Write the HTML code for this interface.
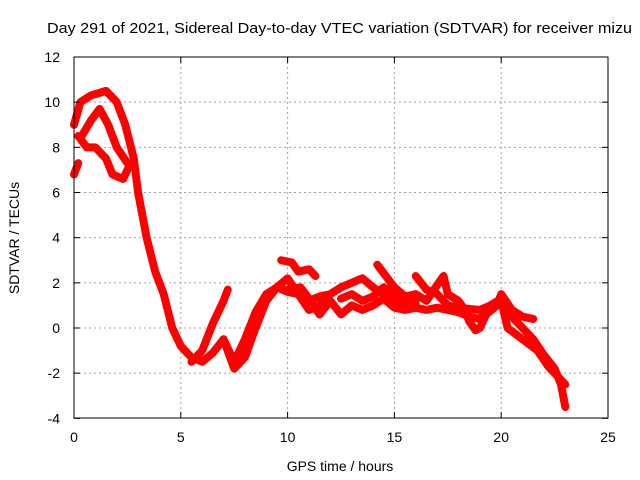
<!DOCTYPE html>
<html><head><meta charset="utf-8"><style>
body{margin:0;background:#fff}
svg{display:block;font-family:"Liberation Sans",sans-serif}
</style></head><body>
<svg id="chart" width="640" height="480" viewBox="0 0 640 480">
<text x="47" y="33" font-size="15" textLength="585" lengthAdjust="spacingAndGlyphs">Day 291 of 2021, Sidereal Day-to-day VTEC variation (SDTVAR) for receiver mizu</text>
<text x="340" y="471" font-size="14" text-anchor="middle">GPS time / hours</text>
<text transform="translate(19,238) rotate(-90)" font-size="14" text-anchor="middle">SDTVAR / TECUs</text>
<g id="grid"></g><g id="series"></g><g id="axes"></g>
</svg>
<script>
const xTicks=[0,5,10,15,20,25];
const yTicks=[-4,-2,0,2,4,6,8,10,12];
const trackA=[[0,9],[0.3,10],[0.8,10.3],[1.5,10.5],[2,10],[2.4,9],[2.8,7.5],[3,6],[3.4,4],[3.8,2.5],[4.2,1.5],[4.6,0],[5,-0.8],[5.5,-1.3],[6,-1.5],[6.5,-1.1],[7,-0.5],[7.5,-1.5],[8,-0.5],[8.5,0.7],[9,1.5],[9.5,1.8],[10,1.6],[10.5,1.5],[11,1.2],[11.5,1.4],[12,1.5]];
const trackB=[[0.3,8.4],[0.8,9.2],[1.2,9.7],[1.6,9],[2,8],[2.5,7.3],[2.8,7.2]];
const trackC=[[0,6.8],[0.2,7.3]];
const trackD=[[0.2,8.5],[0.6,8],[1,8],[1.5,7.5],[1.8,6.8],[2.3,6.6],[2.6,7.2],[2.8,7.4]];
const trackE=[[5.5,-1.5],[6,-1.0],[6.5,0.2],[7,1.2],[7.2,1.7]];
const trackF=[[7,-0.5],[7.5,-1.8],[8,-1.3],[8.5,0],[9,1.2],[9.5,1.8],[10,2.2],[10.5,1.5],[11,0.8],[11.5,1.0],[12,1.5],[12.5,1.8],[13,2.0],[13.5,2.2],[14,1.8],[14.5,1.5],[15,1.2],[15.5,1.0]];
const trackG=[[9.7,3.0],[10.2,2.9],[10.5,2.5],[11,2.6],[11.3,2.3]];
const trackI=[[10,1.7],[10.6,1.8],[11,1.3],[11.5,0.6],[12,1.2],[12.5,0.6],[13,1.0],[13.5,0.8],[14,1.0],[14.5,1.3],[15,0.9],[15.5,0.8],[16,0.9],[16.5,0.8],[17,0.9],[17.5,0.8],[18,0.7],[18.5,0.5],[19,0.4],[19.5,1.0],[20,1.3],[20.5,0.5],[21,0],[21.5,-0.5],[22,-1.2],[22.5,-1.8],[22.8,-2.5],[23,-3.5]];
const trackJ=[[14.2,2.8],[14.6,2.3],[15,1.8],[15.5,1.4],[16,1.5],[16.5,1.2],[17,1.9],[17.3,2.3],[17.5,1.5],[18,1.2],[18.3,0.8],[18.5,0.3],[18.8,-0.1],[19,0],[19.3,0.6],[19.8,1.0],[20,1.5],[20.5,0.8],[21,0.5],[21.5,0.4]];
const trackK=[[16,2.3],[16.5,1.7],[17,1.5],[17.5,1.0],[18,0.9],[19,0.8],[20,1.2],[20.3,0],[21,-0.5],[21.7,-1],[22.2,-1.7],[22.5,-2],[22.8,-2.3],[23,-2.5]];
const trackL=[[12.5,1.3],[13,1.5],[13.5,1.2],[14,1.4],[14.5,1.8],[15,1.5],[15.5,1.3],[16,1.1]];
const tracks=[trackA,trackB,trackC,trackD,trackE,trackF,trackG,trackI,trackJ,trackK,trackL];
const X=h=>74+h*534/25;
const Y=v=>328-v*(328-57)/12;
const NS="http://www.w3.org/2000/svg";
function mk(t,a,p){const e=document.createElementNS(NS,t);for(const k in a)e.setAttribute(k,a[k]);p.appendChild(e);return e;}
const grid=document.getElementById('grid'),axes=document.getElementById('axes'),ser=document.getElementById('series');
xTicks.forEach(t=>{
 if(t>0&&t<25){const g=mk('line',{x1:X(t),x2:X(t),y1:57,y2:418,stroke:'#a0a0a0','stroke-dasharray':'2,3'},grid);
 
 }
 mk('line',{x1:X(t),x2:X(t),y1:418,y2:412,stroke:'#000'},axes);
 mk('line',{x1:X(t),x2:X(t),y1:57,y2:63,stroke:'#000'},axes);
 const l=mk('text',{x:X(t),y:442,'font-size':14,'text-anchor':'middle'},axes);l.textContent=t;
 
 
});
yTicks.forEach(t=>{
 if(t>-4&&t<12){const g=mk('line',{x1:74,x2:608,y1:Y(t),y2:Y(t),stroke:'#a0a0a0','stroke-dasharray':'2,3'},grid);
 
 }
 mk('line',{x1:74,x2:80,y1:Y(t),y2:Y(t),stroke:'#000'},axes);
 mk('line',{x1:608,x2:602,y1:Y(t),y2:Y(t),stroke:'#000'},axes);
 const l=mk('text',{x:60,y:Y(t)+5,'font-size':14,'text-anchor':'end'},axes);l.textContent=t;
 
 
});
const fr=mk('rect',{x:74,y:57,width:534,height:361,fill:'none',stroke:'#000'},axes);


tracks.forEach(tr=>{
 const p=mk('polyline',{points:tr.map(d=>X(d[0])+','+Y(d[1])).join(' '),fill:'none',stroke:'#ff0000','stroke-width':8,'stroke-linejoin':'round','stroke-linecap':'round'},ser);
 
 
});
</script>
</body></html>
